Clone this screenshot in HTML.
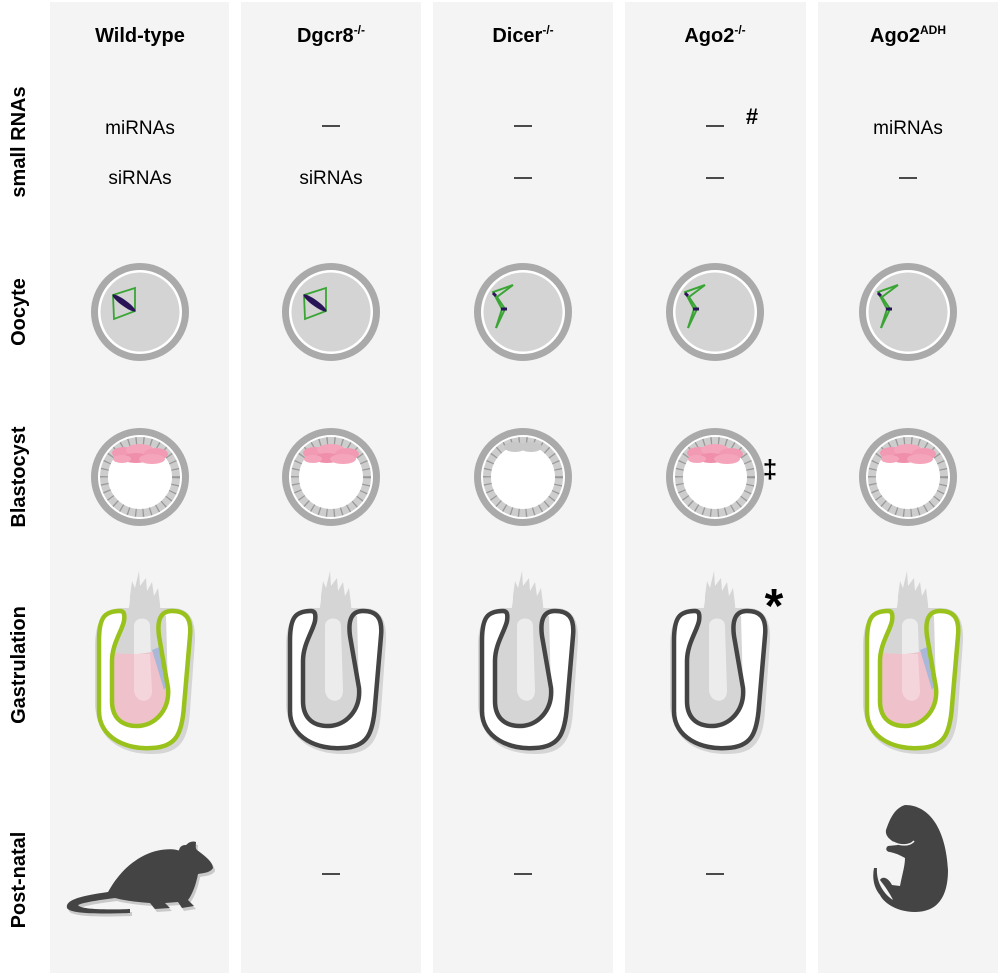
<!DOCTYPE html>
<html><head><style>
html,body{margin:0;padding:0;background:#fff;}
svg{display:block;font-family:"Liberation Sans",Arial,sans-serif;}
</style></head><body>
<svg width="1000" height="973" viewBox="0 0 1000 973">
<defs>
<g id="ocell">
<circle r="45.5" fill="#fff" stroke="#aaa" stroke-width="7"/>
<circle r="39.5" fill="#d4d4d4"/>
</g>
<g id="sp1">
<polygon points="-27,-17 -5,-24 -5,-1 -26,7" fill="none" stroke="#3aa535" stroke-width="1.8"/>
<ellipse cx="-16" cy="-9" rx="14" ry="3" transform="rotate(36 -16 -9)" fill="#2a1458"/>
</g>
<g id="sp2" fill="none" stroke="#3aa535" stroke-width="2">
<polyline points="-10,-27 -30,-20 -21,-3 -27,16"/>
<polyline points="-10,-27 -26,-15 -18,-3 -27,16"/>
<line x1="-30" y1="-19" x2="-27" y2="-16" stroke="#2a1458" stroke-width="3"/>
<line x1="-22" y1="-3" x2="-16" y2="-3" stroke="#2a1458" stroke-width="3"/>
</g>
<g id="blast">
<circle r="45.5" fill="#fff" stroke="#aaa" stroke-width="7"/>
<circle r="36" fill="#fff" stroke="#cdcdcd" stroke-width="8"/>
<circle r="36" fill="none" stroke="#999" stroke-width="8" stroke-dasharray="1.3 6.2"/>
</g>
<g id="icm">
<ellipse cx="-16" cy="-24" rx="12" ry="6" fill="#f29ab3"/>
<ellipse cx="0" cy="-27" rx="14" ry="6" fill="#f4a5bb"/>
<ellipse cx="16" cy="-23" rx="12" ry="6" fill="#f29ab3"/>
<ellipse cx="-4" cy="-19" rx="13" ry="5" fill="#f08fab"/>
<ellipse cx="12" cy="-18" rx="13" ry="5" fill="#f4a5bb"/>
<ellipse cx="-18" cy="-18" rx="9" ry="4" fill="#f4a5bb"/>
</g>
<g id="icm0">
<ellipse cx="-8" cy="-30" rx="11" ry="5" fill="#c8c8c8"/>
<ellipse cx="8" cy="-30" rx="11" ry="5" fill="#c8c8c8"/>
</g>
<path id="loopp" d="M-22,-55 C-38,-55 -43,-48 -43,-25 L-43,45 C-43,72 -15,84 10,82 C34,81 40,68 42,40 L48,-30 C50,-50 42,-55 30,-55 C18,-55 15,-45 17,-30 L26,22 C28,45 12,60 -5,60 C-22,60 -30,50 -30,35 L-30,-5 C-30,-22 -20,-35 -18,-45 C-17,-52 -18,-55 -22,-55 Z"/>
<g id="gbody">
<path d="M-47,-20 C-47,-45 -38,-58 -20,-58 L30,-58 C46,-58 54,-48 53,-25 L48,45 C46,78 35,88 10,88 C-20,88 -44,75 -47,40 Z" fill="#d5d5d5"/>
<use href="#loopp" fill="#fff"/>
<path d="M-3,-95 L-2,-80 L4,-88 L5,-75 L10,-84 L12,-70 L16,-78 L18,-62 C18,-55 20,-52 24,-50 L26,22 C28,45 12,60 -5,60 C-22,60 -30,50 -30,35 L-30,-5 C-30,-22 -20,-35 -18,-45 C-14,-54 -12,-60 -12,-70 L-10,-85 L-7,-78 Z" fill="#d5d5d5"/>
</g>
<g id="slot"><path d="M-8,-40 C-8,-50 8,-50 8,-40 L10,25 C10,38 -6,38 -8,25 Z" fill="#ececec"/></g>
<g id="gpink">
<path d="M-30,-14 C-10,-10 8,-12 21,-18 L26,22 C28,45 12,60 -5,60 C-22,60 -30,50 -30,35 Z" fill="#efc2cb"/>
<path d="M-8,-12 L8,-12 L10,25 C10,38 -6,38 -8,25 Z" fill="#f5d5dc"/>
<path d="M10,-16 L20,-20 L26,18 L22,24 Z" fill="#a9b8d8"/>
</g>
</defs>

<rect x="50" y="2" width="179" height="971" fill="#f4f4f4"/>
<rect x="241" y="2" width="180" height="971" fill="#f4f4f4"/>
<rect x="433" y="2" width="180" height="971" fill="#f4f4f4"/>
<rect x="625" y="2" width="181" height="971" fill="#f4f4f4"/>
<rect x="818" y="2" width="180" height="971" fill="#f4f4f4"/>

<g font-weight="bold" font-size="20" text-anchor="middle">
<text x="140" y="42">Wild-type</text>
<text x="331" y="42">Dgcr8<tspan font-size="12" dy="-8">-/-</tspan></text>
<text x="523" y="42">Dicer<tspan font-size="12" dy="-8">-/-</tspan></text>
<text x="715" y="42">Ago2<tspan font-size="12" dy="-8">-/-</tspan></text>
<text x="908" y="42">Ago2<tspan font-size="12" dy="-8">ADH</tspan></text>
</g>
<g font-weight="bold" font-size="20" text-anchor="middle">
<text transform="translate(25,142) rotate(-90)">small RNAs</text>
<text transform="translate(25,312) rotate(-90)">Oocyte</text>
<text transform="translate(25,477) rotate(-90)">Blastocyst</text>
<text transform="translate(25,665) rotate(-90)">Gastrulation</text>
<text transform="translate(25,880) rotate(-90)">Post-natal</text>
</g>
<g font-size="19" text-anchor="middle">
<text x="140" y="134">miRNAs</text>
<text x="140" y="184">siRNAs</text>
<text x="331" y="184">siRNAs</text>
<text x="908" y="134">miRNAs</text>
</g>
<g stroke="#111" stroke-width="1.6">
<line x1="322" y1="126" x2="340" y2="126"/>
<line x1="514" y1="126" x2="532" y2="126"/>
<line x1="514" y1="178" x2="532" y2="178"/>
<line x1="706" y1="126" x2="724" y2="126"/>
<line x1="706" y1="178" x2="724" y2="178"/>
<line x1="899" y1="178" x2="917" y2="178"/>
<line x1="322" y1="874" x2="340" y2="874"/>
<line x1="514" y1="874" x2="532" y2="874"/>
<line x1="706" y1="874" x2="724" y2="874"/>
</g>
<text x="752" y="124" font-size="22" font-weight="bold" text-anchor="middle">#</text>
<text x="770" y="478" font-size="26" font-weight="bold" text-anchor="middle">‡</text>
<text x="774" y="622" font-size="48" font-weight="bold" text-anchor="middle">*</text>

<use href="#ocell" x="140" y="312"/><use href="#sp1" x="140" y="312"/>
<use href="#ocell" x="331" y="312"/><use href="#sp1" x="331" y="312"/>
<use href="#ocell" x="523" y="312"/><use href="#sp2" x="523" y="312"/>
<use href="#ocell" x="715" y="312"/><use href="#sp2" x="715" y="312"/>
<use href="#ocell" x="908" y="312"/><use href="#sp2" x="908" y="312"/>

<use href="#blast" x="140" y="477"/><use href="#icm" x="140" y="477"/>
<use href="#blast" x="331" y="477"/><use href="#icm" x="331" y="477"/>
<use href="#blast" x="523" y="477"/><use href="#icm0" x="523" y="477"/>
<use href="#blast" x="715" y="477"/><use href="#icm" x="715" y="477"/>
<use href="#blast" x="908" y="477"/><use href="#icm" x="908" y="477"/>

<g transform="translate(142,666)"><use href="#gbody"/><use href="#slot"/><use href="#gpink"/><use href="#loopp" fill="none" stroke="#99c21c" stroke-width="4.5"/></g>
<g transform="translate(333,666)"><use href="#gbody"/><use href="#slot"/><use href="#loopp" fill="none" stroke="#444" stroke-width="4.5"/></g>
<g transform="translate(525,666)"><use href="#gbody"/><use href="#slot"/><use href="#loopp" fill="none" stroke="#444" stroke-width="4.5"/></g>
<g transform="translate(717,666)"><use href="#gbody"/><use href="#slot"/><use href="#loopp" fill="none" stroke="#444" stroke-width="4.5"/></g>
<g transform="translate(910,666)"><use href="#gbody"/><use href="#slot"/><use href="#gpink"/><use href="#loopp" fill="none" stroke="#99c21c" stroke-width="4.5"/></g>

<!-- mouse -->
<g>
<path d="M67,908 C65,900 80,896 108,892 C115,880 125,865 145,855 C160,848 175,848 183,852 C184,845 190,840 196,842 C196,845 195,848 197,850 C205,856 213,862 213,868 C210,873 203,873 198,874 C196,885 192,895 188,900 L194,906 L182,908 L178,902 L165,903 L170,908 L155,909 L150,903 C135,902 122,900 115,898 C100,900 85,902 78,905 C80,909 100,910 130,909 L130,913 C100,914 70,914 67,908 Z" fill="#c9c9c9" transform="translate(2,3)"/>
<path d="M67,908 C65,900 80,896 108,892 C115,880 125,865 145,855 C160,848 175,848 183,852 C184,845 190,840 196,842 C196,845 195,848 197,850 C205,856 213,862 213,868 C210,873 203,873 198,874 C196,885 192,895 188,900 L194,906 L182,908 L178,902 L165,903 L170,908 L155,909 L150,903 C135,902 122,900 115,898 C100,900 85,902 78,905 C80,909 100,910 130,909 L130,913 C100,914 70,914 67,908 Z" fill="#444"/>
<circle cx="185" cy="851" r="6" fill="#444"/>
</g>
<!-- pup -->
<path d="M905,805 C930,805 946,830 948,870 C948,900 935,912 915,912 C900,912 885,905 880,895 C874,888 872,878 874,868 L877,868 C876,880 882,893 893,900 C888,890 883,884 880,880 C882,876 888,877 892,885 L900,886 C902,875 905,866 905,858 C900,855 895,853 890,852 C886,852 885,848 888,846 L898,845 C890,840 885,836 886,830 C890,818 895,808 905,805 Z" fill="#444"/>
<path d="M893,842 C900,846 910,846 914,841" fill="none" stroke="#f4f4f4" stroke-width="1.5"/>
</svg>
</body></html>
